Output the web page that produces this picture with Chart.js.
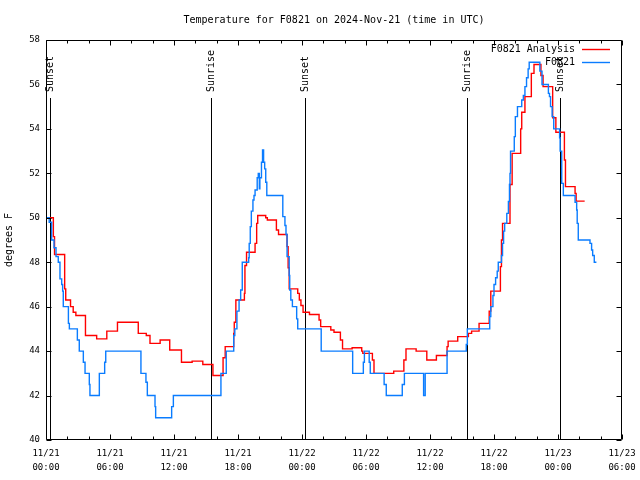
<!DOCTYPE html>
<html>
<head>
<meta charset="utf-8">
<script src="https://cdn.jsdelivr.net/npm/chart.js@4/dist/chart.umd.min.js"></script>
<style>
  html, body { margin: 0; padding: 0; background: #ffffff; }
  #wrap { width: 640px; height: 480px; }
</style>
</head>
<body>
<div id="wrap"><canvas id="c" width="640" height="480"></canvas></div>
<script>
// ---- data (hours since 2024-11-21 00:00 UTC) ----
const analysisHours = [0, 0.69, 0.8, 1.75, 1.85, 2.3, 2.55, 2.8, 3.7, 4.75, 5.7, 6.7, 8.65, 9.4, 9.75, 10.7, 11.6, 12.7, 13.7, 14.7, 15.65, 16.6, 16.8, 17.6, 17.65, 17.8, 18.6, 18.65, 18.8, 19.6, 19.75, 19.85, 20.6, 20.75, 21.6, 21.8, 22.6, 22.7, 22.8, 23.6, 23.75, 23.9, 24.1, 24.7, 25.6, 25.75, 26.7, 27.0, 27.6, 27.8, 28.7, 29.6, 29.7, 30.6, 30.75, 32.6, 33.55, 33.75, 34.7, 35.7, 36.6, 37.6, 37.7, 38.6, 39.6, 39.9, 40.6, 41.55, 41.7, 42.6, 42.7, 42.8, 43.5, 43.7, 44.5, 44.6, 44.9, 45.5, 45.75, 46.4, 46.6, 47.5, 47.8, 48.6, 48.7, 49.6, 49.7, 50.5];
const analysisTemps = [50.0, 49.15, 48.35, 46.8, 46.3, 46.0, 45.75, 45.6, 44.7, 44.55, 44.9, 45.3, 44.8, 44.7, 44.35, 44.5, 44.05, 43.5, 43.55, 43.4, 42.9, 43.7, 44.2, 44.8, 45.3, 46.3, 46.6, 47.85, 48.45, 48.85, 49.75, 50.1, 50.0, 49.9, 49.45, 49.25, 48.7, 47.75, 46.8, 46.6, 46.3, 46.05, 45.75, 45.65, 45.4, 45.1, 44.95, 44.85, 44.5, 44.1, 44.15, 44.0, 43.9, 43.6, 43.0, 43.1, 43.6, 44.1, 44.0, 43.6, 43.8, 44.2, 44.45, 44.65, 44.8, 44.9, 45.25, 45.8, 46.7, 47.8, 49.0, 49.75, 51.5, 52.9, 54.0, 54.75, 55.45, 56.5, 56.9, 56.4, 55.9, 54.5, 53.85, 52.6, 51.4, 51.1, 50.75, 50.75];

const obsHours = [0, 0.3, 0.53, 0.75, 0.94, 1.15, 1.31, 1.47, 1.56, 1.62, 2.1, 2.19, 2.94, 3.12, 3.5, 3.66, 4.06, 4.12, 5.0, 5.5, 5.6, 8.9, 9.37, 9.5, 10.22, 10.28, 11.78, 11.94, 16.4, 16.9, 17.6, 17.7, 17.9, 18.1, 18.25, 18.4, 19.0, 19.05, 19.15, 19.25, 19.4, 19.5, 19.6, 19.8, 19.9, 20.0, 20.05, 20.2, 20.3, 20.4, 20.5, 20.6, 20.7, 22.2, 22.4, 22.5, 22.6, 22.8, 22.85, 22.95, 23.1, 23.5, 23.6, 25.8, 28.75, 29.75, 29.85, 30.3, 30.4, 31.7, 31.9, 33.4, 33.6, 35.4, 35.55, 37.6, 39.4, 39.5, 41.6, 41.7, 41.9, 42.0, 42.15, 42.3, 42.4, 42.7, 42.8, 42.9, 43.0, 43.2, 43.35, 43.45, 43.5, 43.55, 43.9, 44.0, 44.2, 44.6, 44.75, 44.9, 45.05, 45.2, 45.3, 46.3, 46.5, 47.1, 47.2, 47.3, 47.45, 47.6, 48.15, 48.2, 48.35, 48.5, 49.6, 49.75, 49.8, 49.9, 51.0, 51.15, 51.25, 51.4, 51.6];
const obsTemps = [50.0, 49.8, 49.0, 48.65, 48.25, 48.0, 47.25, 47.0, 46.7, 46.0, 45.25, 45.0, 44.5, 44.0, 43.5, 43.0, 42.5, 42.0, 43.0, 43.5, 44.0, 43.0, 42.6, 42.0, 41.5, 41.0, 41.5, 42.0, 43.0, 44.0, 44.7, 45.0, 45.8, 46.3, 46.75, 48.0, 48.2, 48.85, 49.6, 50.3, 50.8, 51.0, 51.25, 51.8, 52.0, 51.3, 51.8, 52.5, 53.05, 52.5, 52.2, 51.6, 51.0, 50.05, 49.65, 49.25, 48.25, 47.4, 46.75, 46.3, 46.0, 45.45, 45.0, 44.0, 43.0, 43.5, 44.0, 43.5, 43.0, 42.5, 42.0, 42.5, 43.0, 42.0, 43.0, 44.0, 44.3, 45.0, 45.55, 46.0, 46.5, 47.0, 47.3, 47.6, 48.0, 48.3, 48.85, 49.4, 49.75, 50.2, 50.73, 51.5, 52.0, 53.0, 53.65, 54.55, 55.0, 55.3, 55.5, 55.9, 56.3, 56.7, 57.0, 56.6, 56.0, 55.6, 55.45, 55.0, 54.55, 54.0, 53.6, 53.0, 51.55, 51.0, 50.7, 50.35, 49.75, 49.0, 48.85, 48.55, 48.3, 48.0, 48.0];

const sunHours = [0.33, 15.47, 24.3, 39.5, 48.19];
const sunLabels = ['Sunset', 'Sunrise', 'Sunset', 'Sunrise', 'Sunset'];

const xTickDates = ['11/21', '11/21', '11/21', '11/21', '11/22', '11/22', '11/22', '11/22', '11/23', '11/23'];
const xTickTimes = ['00:00', '06:00', '12:00', '18:00', '00:00', '06:00', '12:00', '18:00', '00:00', '06:00'];

const titleText = 'Temperature for F0821 on 2024-Nov-21 (time in UTC)';
const seriesNames = ['F0821 Analysis', 'F0821'];
const seriesColors = ['#ff0000', '#0a7cff'];

const MONO = "'DejaVu Sans Mono', 'Liberation Mono', monospace";

function pts(hs, ts) { return hs.map((h, i) => ({ x: h, y: ts[i] })); }

// ---- plugins ----
const sunPlugin = {
  id: 'sunLines',
  beforeDatasetsDraw(chart) {
    const { ctx, chartArea, scales } = chart;
    ctx.save();
    ctx.strokeStyle = '#000';
    ctx.lineWidth = 1;
    ctx.fillStyle = '#000';
    ctx.font = '10px ' + MONO;
    sunHours.forEach((h, i) => {
      const x = Math.round(scales.x.getPixelForValue(h)) + 0.5;
      ctx.beginPath();
      ctx.moveTo(x, chartArea.top + 58);
      ctx.lineTo(x, chartArea.bottom);
      ctx.stroke();
      ctx.save();
      ctx.translate(x, chartArea.top + 52);
      ctx.rotate(-Math.PI / 2);
      ctx.textAlign = 'left';
      ctx.textBaseline = 'middle';
      ctx.fillText(sunLabels[i], 0, 0);
      ctx.restore();
    });
    ctx.restore();
  }
};

const framePlugin = {
  id: 'frame',
  afterDatasetsDraw(chart) {
    const { ctx, chartArea, scales } = chart;
    const L = chartArea.left + 0.5, R = chartArea.right - 0.5;
    const T = chartArea.top + 0.5, B = chartArea.bottom - 0.5;
    ctx.save();
    ctx.strokeStyle = '#000';
    ctx.lineWidth = 1;
    ctx.beginPath();
    ctx.rect(L, T, R - L, B - T);
    for (let h = 0; h <= 54; h += 2) {
      const x = Math.round(scales.x.getPixelForValue(h)) + 0.5;
      const len = (h % 6 === 0) ? 5 : 3;
      ctx.moveTo(x, B); ctx.lineTo(x, B - len);
      ctx.moveTo(x, T); ctx.lineTo(x, T + len);
    }
    for (let v = 40; v <= 58; v += 2) {
      const y = Math.round(scales.y.getPixelForValue(v)) + 0.5;
      ctx.moveTo(L, y); ctx.lineTo(L + 5, y);
      ctx.moveTo(R, y); ctx.lineTo(R - 5, y);
    }
    ctx.stroke();
    ctx.restore();
  }
};

const legendPlugin = {
  id: 'gpLegend',
  afterDraw(chart) {
    const { ctx } = chart;
    ctx.save();
    ctx.font = '10px ' + MONO;
    ctx.textAlign = 'right';
    ctx.textBaseline = 'middle';
    const order = [1, 0];
    order.forEach((di, row) => {
      const ds = chart.data.datasets[di];
      const y = 49 + row * 13;
      ctx.fillStyle = '#000';
      ctx.fillText(ds.label, 575, y);
      ctx.strokeStyle = ds.borderColor;
      ctx.lineWidth = 1.4;
      ctx.beginPath();
      ctx.moveTo(582, Math.round(y) + 0.5);
      ctx.lineTo(610, Math.round(y) + 0.5);
      ctx.stroke();
    });
    ctx.restore();
  }
};

new Chart(document.getElementById('c'), {
  type: 'line',
  data: {
    datasets: [
      {
        label: seriesNames[1],
        data: pts(obsHours, obsTemps),
        borderColor: seriesColors[1],
        borderWidth: 1.4,
        pointRadius: 0,
        stepped: true,
        fill: false,
        order: 1
      },
      {
        label: seriesNames[0],
        data: pts(analysisHours, analysisTemps),
        borderColor: seriesColors[0],
        borderWidth: 1.4,
        pointRadius: 0,
        stepped: true,
        fill: false,
        order: 2
      }
    ]
  },
  options: {
    responsive: false,
    animation: false,
    devicePixelRatio: 1,
    layout: { padding: { left: 0, right: 18, top: 0, bottom: 0 } },
    plugins: {
      legend: { display: false },
      tooltip: { enabled: false },
      title: {
        display: true,
        text: titleText,
        fullSize: false,
        color: '#000',
        font: { family: MONO, size: 10, weight: 'normal', lineHeight: 1.2 },
        padding: { top: 14, bottom: 14 }
      }
    },
    scales: {
      x: {
        type: 'linear',
        min: 0,
        max: 54,
        grid: { display: false, drawTicks: false },
        border: { display: false },
        afterFit(s) { s.height = 40; s.paddingLeft = 0; s.paddingRight = 0; },
        afterBuildTicks(s) { s.ticks = xTickDates.map((_, i) => ({ value: i * 6 })); },
        ticks: {
          autoSkip: false,
          maxRotation: 0,
          minRotation: 0,
          padding: 7,
          color: '#000',
          font: { family: MONO, size: 9, lineHeight: 1.55 },
          callback(v) { const i = Math.round(v / 6); return [xTickDates[i], xTickTimes[i]]; }
        }
      },
      y: {
        min: 40,
        max: 58,
        grid: { display: false, drawTicks: false },
        border: { display: false },
        afterFit(s) { s.width = 46; s.paddingTop = 0; s.paddingBottom = 0; },
        ticks: {
          stepSize: 2,
          padding: 6,
          color: '#000',
          font: { family: MONO, size: 9 },
          callback(v) { return String(v); }
        },
        title: {
          display: true,
          text: 'degrees F',
          color: '#000',
          font: { family: MONO, size: 10, lineHeight: 1.2 },
          padding: { top: 3, bottom: 0 }
        }
      }
    }
  },
  plugins: [sunPlugin, framePlugin, legendPlugin]
});
</script>
</body>
</html>
